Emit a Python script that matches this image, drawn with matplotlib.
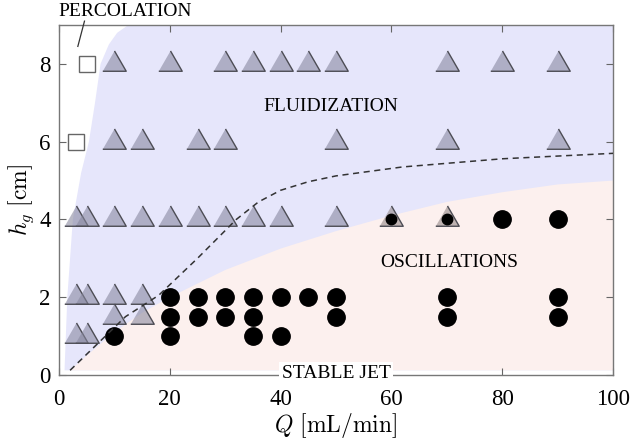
import matplotlib
matplotlib.use("Agg")
import matplotlib.pyplot as plt
import numpy as np

plt.rcParams['font.family'] = ['Liberation Serif', 'DejaVu Serif']
plt.rcParams['mathtext.fontset'] = 'cm'

# --- data ---
# fluidization (triangles)
tri_q = [10, 20, 30, 35, 40, 45, 50, 70, 80, 90,
         10, 15, 25, 30, 50, 70, 90,
         3, 5, 10, 15, 20, 25, 30, 35, 40, 50,
         3, 5, 10, 15,
         10, 15,
         3, 5]
tri_h = [8, 8, 8, 8, 8, 8, 8, 8, 8, 8,
         6, 6, 6, 6, 6, 6, 6,
         4, 4, 4, 4, 4, 4, 4, 4, 4, 4,
         2, 2, 2, 2,
         1.5, 1.5,
         1, 1]

# mixed points (triangle + dot)
mix_q = [60, 70]
mix_h = [4, 4]

# oscillations (circles)
osc_q = [80, 90,
         20, 25, 30, 35, 40, 45, 50, 70, 90,
         20, 25, 30, 35, 50, 70, 90,
         10, 20, 35, 40]
osc_h = [4, 4,
         2, 2, 2, 2, 2, 2, 2, 2, 2,
         1.5, 1.5, 1.5, 1.5, 1.5, 1.5, 1.5,
         1, 1, 1, 1]

# percolation (squares)
perc_q = [5, 3]
perc_h = [8, 6]

# region boundaries
fluid_edge_q = [1.0, 1.5, 2.5, 4.0, 5.4, 6.5, 7.5, 9.0, 10.5, 12.5]
fluid_edge_h = [0.12, 2.0, 4.0, 5.2, 6.0, 7.0, 8.0, 8.5, 8.8, 9.0]
osc_edge_q = [2, 5, 10, 15, 20, 30, 40, 50, 60, 70, 80, 90, 100]
osc_edge_h = [0.12, 0.5, 1.1, 1.6, 2.0, 2.7, 3.25, 3.7, 4.1, 4.45, 4.7, 4.9, 5.0]
dash_q = [2, 12, 18, 25, 32, 36, 40, 45, 50, 62, 80, 100]
dash_h = [0.12, 1.5, 2.05, 3.0, 4.0, 4.45, 4.75, 4.97, 5.12, 5.35, 5.56, 5.7]

tri_marker = [(-1, -0.577), (1, -0.577), (0, 1.155)]

fig = plt.figure(figsize=(6.31, 4.42), dpi=100)
ax = fig.add_axes([0.0935, 0.1516, 0.878, 0.7918])

# background regions
bq = fluid_edge_q + [100, 100]
bh = fluid_edge_h + [9.0, 0.12]
ax.fill(bq, bh, color='#e6e6fb', lw=0, zorder=0)
pq = osc_edge_q + [100]
ph = osc_edge_h + [0.12]
ax.fill(pq, ph, color='#fcf0ee', lw=0, zorder=0.5)

ax.plot(dash_q, dash_h, ls=(0, (4, 3)), color='#333333', lw=1.1, zorder=4)

ax.plot(tri_q, tri_h, ls='none', marker=tri_marker, ms=19.5,
        mfc=(0.53, 0.53, 0.62, 0.58), mec='#4d4d55', mew=1.0, zorder=3)
ax.plot(mix_q, mix_h, ls='none', marker=tri_marker, ms=19.5,
        mfc=(0.55, 0.5, 0.5, 0.55), mec='#4d4d55', mew=1.0, zorder=3)
ax.plot(mix_q, mix_h, ls='none', marker='o', ms=7.5, color='black', zorder=3.5)
ax.plot(osc_q, osc_h, ls='none', marker='o', ms=12.5, color='black', zorder=3.2)
ax.plot(perc_q, perc_h, ls='none', marker='s', ms=11.5, mfc='white',
        mec='#666666', mew=1.0, zorder=3)

ax.set_xlim(0, 100)
ax.set_ylim(0, 9)
ax.set_xticks([0, 20, 40, 60, 80, 100])
ax.set_yticks([0, 2, 4, 6, 8])
ax.tick_params(direction='in', top=True, right=True, labelsize=16.5,
               color='#666666', length=5, width=0.8)
ax.tick_params(axis='x', pad=10)
ax.tick_params(axis='y', pad=6)
for s in ax.spines.values():
    s.set_color('#777777')
    s.set_linewidth(1.0)

ax.set_xlabel(r'$Q\ [\mathrm{mL/min}]$', fontsize=17, labelpad=1)
ax.set_ylabel(r'$h_g\ [\mathrm{cm}]$', fontsize=17, labelpad=2)

ax.text(49, 6.9, 'FLUIDIZATION', fontsize=14, ha='center', va='center', zorder=5)
ax.text(70.5, 2.9, 'OSCILLATIONS', fontsize=14, ha='center', va='center', zorder=5)
ax.text(50, 0.05, 'STABLE JET', fontsize=14, ha='center', va='center', zorder=6,
        clip_on=False, bbox=dict(facecolor='white', edgecolor='none', pad=1.5))
ax.text(12, 9.35, 'PERCOLATION', fontsize=14, ha='center', va='center',
        clip_on=False)
ax.plot([4.6, 3.4], [9.1, 8.45], color='#333333', lw=0.9, clip_on=False, zorder=5)

fig.savefig('out.png', dpi=100)
